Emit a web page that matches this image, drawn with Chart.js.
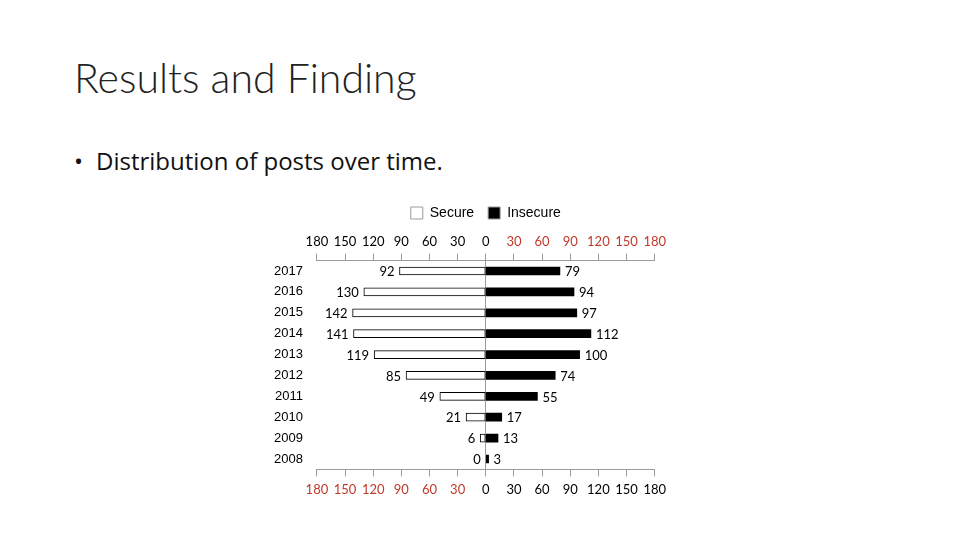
<!DOCTYPE html>
<html>
<head>
<meta charset="utf-8">
<script src="https://cdn.jsdelivr.net/npm/chart.js@4"></script>
<style>
  body { margin: 0; width: 960px; height: 540px; background: #fff; position: relative; overflow: hidden; font-family: "Lato", sans-serif; }
  h1 { position: absolute; left: 74px; top: 53px; margin: 0; font-weight: 300; font-size: 41px; color: #222; }
  .bullet { position: absolute; left: 74px; top: 144px; margin: 0; font-family: "Open Sans", sans-serif; font-size: 24px; color: #111; }
  .bullet span { display: inline-block; width: 22px; }
  #box { position: absolute; left: 268px; top: 192px; width: 404px; height: 312px; }
</style>
</head>
<body>
<h1>Results and Finding</h1>
<p class="bullet"><span>•</span>Distribution of posts over time.</p>
<div id="box"><canvas id="postsChart"></canvas></div>
<script>
const years = ["2017", "2016", "2015", "2014", "2013", "2012", "2011", "2010", "2009", "2008"];
const secure = [92, 130, 142, 141, 119, 85, 49, 21, 6, 0];
const insecure = [79, 94, 97, 112, 100, 74, 55, 17, 13, 3];
const axisTicks = [-180, -150, -120, -90, -60, -30, 0, 30, 60, 90, 120, 150, 180];

const RED = "#c0392b";
const GREY = "#9a9a9a";

// numbers at the end of each bar
const barLabels = {
  id: "barLabels",
  afterDatasetsDraw(chart) {
    const ctx = chart.ctx;
    ctx.save();
    ctx.font = "13px Lato";
    ctx.fillStyle = "#000";
    ctx.textBaseline = "middle";
    chart.data.datasets.forEach((ds, i) => {
      chart.getDatasetMeta(i).data.forEach((bar, j) => {
        const v = Math.abs(ds.data[j]);
        if (ds.data[j] <= 0) {
          ctx.textAlign = "right";
          ctx.fillText(v, bar.x - 5, bar.y + 1);
        } else {
          ctx.textAlign = "left";
          ctx.fillText(v, bar.x + 5, bar.y + 1);
        }
      });
    });
    ctx.restore();
  }
};

const rangeOpts = {
  min: -180,
  max: 180,
  afterBuildTicks: axis => { axis.ticks = axisTicks.map(v => ({ value: v })); }
};

const tickFont = { family: "Lato", size: 13 };

new Chart(document.getElementById("postsChart"), {
  type: "bar",
  data: {
    labels: years,
    datasets: [
      {
        label: "Secure",
        data: secure.map(v => -v),
        backgroundColor: "#fff",
        borderColor: "#000",
        borderWidth: 1,
        borderSkipped: false,
        barThickness: 8
      },
      {
        label: "Insecure",
        data: insecure,
        backgroundColor: "#000",
        borderColor: "#000",
        borderWidth: 0,
        barThickness: 8
      }
    ]
  },
  options: {
    indexAxis: "y",
    responsive: true,
    maintainAspectRatio: false,
    animation: false,
    layout: { padding: { left: 0, right: 5 } },
    plugins: {
      legend: {
        position: "top",
        fullSize: false,
        labels: {
          boxWidth: 12,
          boxHeight: 12,
          color: "#000",
          font: { family: "Liberation Sans", size: 14 },
          padding: 14,
          generateLabels: chart => chart.data.datasets.map((ds, i) => ({
            text: ds.label,
            fillStyle: ds.backgroundColor,
            strokeStyle: GREY,
            lineWidth: 1,
            datasetIndex: i
          }))
        }
      },
      tooltip: { enabled: false }
    },
    scales: {
      x: {
        ...rangeOpts,
        stacked: true,
        position: "bottom",
        border: { display: true, color: GREY },
        grid: {
          color: c => (c.tick && c.tick.value === 0 ? GREY : "transparent"),
          tickColor: GREY,
          tickLength: 7
        },
        ticks: {
          color: c => (c.tick.value < 0 ? RED : "#000"),
          callback: v => Math.abs(v),
          font: tickFont,
          autoSkip: false,
          maxRotation: 0,
          minRotation: 0,
          padding: 6
        }
      },
      x2: {
        ...rangeOpts,
        position: "top",
        border: { display: true, color: GREY },
        grid: { drawOnChartArea: false, tickColor: GREY, tickLength: 7 },
        ticks: {
          color: c => (c.tick.value > 0 ? RED : "#000"),
          callback: v => Math.abs(v),
          font: tickFont,
          autoSkip: false,
          maxRotation: 0,
          minRotation: 0,
          padding: 4
        }
      },
      y: {
        stacked: true,
        grid: { display: false },
        border: { display: false },
        ticks: {
          color: "#000",
          font: { family: "Liberation Sans", size: 13 },
          padding: 6
        }
      }
    }
  },
  plugins: [barLabels]
});
</script>
</body>
</html>
